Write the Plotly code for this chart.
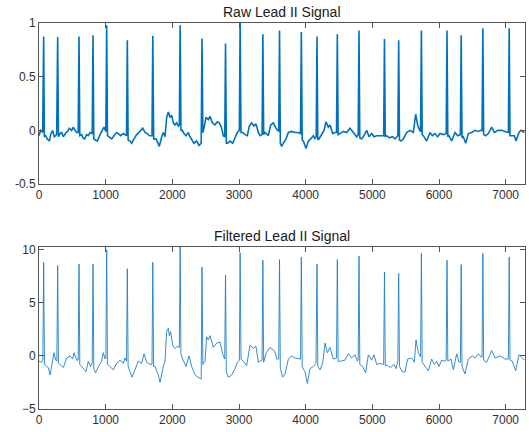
import plotly.graph_objects as go

# R-peak sample positions (shared by both traces)
peak_x = [70, 280, 600, 810, 1015, 1325, 1707, 2117, 2445, 2798, 3017, 3358,
          3608, 3935, 4170, 4475, 4800, 5182, 5395, 5736, 6120, 6333, 6658, 7053]
raw_peak_y = [0.875, 0.87, 0.875, 0.885, 0.98, 0.84, 0.88, 0.98, 0.855, 0.81, 1.0, 0.895,
              0.93, 0.915, 0.875, 0.895, 0.93, 0.85, 0.84, 0.93, 0.93, 0.885, 0.95, 0.95]
filt_peak_y = [8.8, 8.5, 8.65, 8.65, 10.0, 8.2, 8.8, 10.25, 8.35, 7.6, 9.7, 9.0,
               9.06, 9.3, 8.65, 9.06, 9.4, 7.9, 7.75, 9.65, 9.0, 8.6, 9.65, 9.3]

# Raw signal between beats (sample, value)
raw_base_x = [0, 25, 55, 80, 100, 125, 155, 180, 205, 230, 265, 292, 315, 340, 365, 405, 430,
              455, 490, 515, 540, 565, 588, 612, 640, 660, 685, 715, 740, 765, 798, 822, 845,
              875, 915, 955, 975, 1003, 1027, 1055, 1090, 1125, 1165, 1190, 1225, 1265, 1295,
              1313, 1337, 1365, 1390, 1425, 1465, 1500, 1525, 1555, 1590, 1625, 1655, 1695,
              1720, 1755, 1790, 1805, 1840, 1865, 1890, 1915, 1940, 1965, 1990, 2015, 2040,
              2065, 2090, 2105, 2130, 2150, 2175, 2205, 2240, 2255, 2290, 2325, 2365, 2400,
              2433, 2458, 2475, 2505, 2540, 2565, 2600, 2640, 2675, 2705, 2740, 2765, 2786,
              2810, 2830, 2865, 2905, 2940, 2975, 3005, 3030, 3055, 3090, 3125, 3155, 3190,
              3225, 3255, 3290, 3315, 3346, 3370, 3390, 3440, 3475, 3515, 3555, 3596, 3620,
              3640, 3665, 3705, 3740, 3790, 3840, 3890, 3923, 3948, 3965, 4005, 4040, 4075,
              4115, 4140, 4158, 4182, 4200, 4240, 4275, 4305, 4340, 4365, 4405, 4440, 4463,
              4487, 4515, 4565, 4615, 4665, 4705, 4740, 4765, 4788, 4812, 4840, 4875, 4915,
              4950, 4990, 5025, 5065, 5115, 5145, 5170, 5194, 5215, 5255, 5305, 5340, 5383,
              5407, 5430, 5465, 5515, 5565, 5615, 5650, 5680, 5710, 5724, 5748, 5765, 5815,
              5865, 5900, 5940, 5980, 6015, 6065, 6108, 6132, 6150, 6190, 6240, 6280, 6321,
              6345, 6365, 6400, 6440, 6490, 6540, 6590, 6630, 6646, 6670, 6700, 6740, 6790,
              6830, 6890, 6940, 6990, 7041, 7065, 7090, 7130, 7155, 7200, 7230, 7280]
raw_base_y = [-0.05, 0.0, -0.02, -0.06, -0.05, -0.08, -0.10, -0.03, 0.0, -0.06, -0.04, -0.06,
              -0.03, -0.02, -0.06, -0.02, -0.01, 0.02, 0.0, 0.03, 0.0, -0.02, -0.02, -0.05,
              -0.04, -0.07, -0.08, -0.04, -0.05, -0.02, -0.03, -0.08, -0.09, -0.10, -0.04,
              0.0, 0.03, -0.01, -0.05, -0.06, -0.08, -0.05, -0.02, -0.03, -0.05, -0.03, -0.04,
              -0.05, -0.09, -0.10, -0.12, -0.08, -0.04, -0.02, 0.0, 0.02, -0.02, -0.03, -0.05,
              -0.05, -0.08, -0.08, -0.12, -0.15, -0.06, -0.02, -0.06, 0.12, 0.17, 0.12, 0.14,
              0.07, 0.05, 0.07, 0.04, 0.05, 0.0, 0.0, -0.03, -0.05, -0.02, -0.05, -0.08, -0.12,
              -0.10, -0.14, -0.12, -0.02, 0.02, 0.12, 0.10, 0.13, 0.07, 0.05, 0.08, 0.07, 0.02,
              -0.05, -0.06, -0.12, -0.12, -0.10, -0.12, -0.06, -0.02, 0.0, -0.02, -0.02, -0.04,
              -0.05, 0.04, 0.07, 0.04, 0.06, -0.02, -0.05, -0.04, -0.04, -0.02, -0.05, 0.05,
              0.07, 0.02, -0.01, -0.12, -0.15, -0.12, -0.08, -0.02, -0.01, -0.02, -0.02, -0.03,
              -0.09, -0.10, -0.17, -0.10, -0.08, -0.05, -0.08, -0.06, -0.09, -0.08, -0.03, 0.0,
              0.08, 0.03, 0.05, -0.03, -0.02, -0.02, -0.04, -0.03, -0.01, -0.02, 0.02, -0.01,
              -0.04, -0.06, -0.04, -0.07, -0.08, -0.05, 0.0, -0.06, -0.03, -0.06, -0.05, -0.05,
              -0.05, -0.05, -0.06, -0.05, -0.07, -0.06, -0.08, -0.05, -0.09, -0.10, -0.08,
              -0.02, 0.0, -0.02, 0.15, 0.05, 0.0, -0.01, -0.04, -0.05, -0.10, -0.02, -0.05,
              -0.03, -0.06, -0.03, -0.04, -0.03, -0.06, -0.05, -0.10, -0.02, -0.05, -0.04,
              -0.07, -0.06, -0.12, -0.03, -0.02, 0.0, -0.01, 0.0, 0.0, -0.04, -0.05, -0.03,
              0.03, -0.02, 0.0, 0.0, -0.01, -0.02, -0.05, -0.05, -0.05, -0.10, -0.02, 0.0, -0.02]

# Filtered signal between beats (sample, value)
filt_base_x = [0, 40, 58, 82, 115, 140, 165, 205, 225, 250, 268, 292, 315, 365, 415, 465, 505,
               525, 565, 588, 612, 640, 670, 705, 740, 775, 798, 822, 850, 890, 940, 965, 990,
               1003, 1027, 1065, 1115, 1165, 1215, 1265, 1290, 1313, 1337, 1365, 1395, 1440,
               1490, 1540, 1575, 1615, 1665, 1695, 1719, 1740, 1790, 1815, 1865, 1890, 1915,
               1940, 1955, 1975, 2005, 2040, 2075, 2105, 2129, 2155, 2205, 2250, 2290, 2340,
               2390, 2433, 2458, 2490, 2515, 2540, 2565, 2615, 2665, 2715, 2755, 2786, 2810,
               2840, 2890, 2940, 2975, 3005, 3030, 3065, 3115, 3165, 3215, 3255, 3290, 3346,
               3370, 3410, 3465, 3510, 3540, 3565, 3596, 3620, 3655, 3690, 3740, 3790, 3840,
               3905, 3923, 3948, 3990, 4025, 4065, 4115, 4155, 4182, 4215, 4255, 4290, 4325,
               4365, 4415, 4463, 4487, 4525, 4590, 4640, 4690, 4740, 4775, 4788, 4812, 4855,
               4900, 4940, 4990, 5025, 5065, 5115, 5155, 5170, 5194, 5225, 5275, 5325, 5355,
               5383, 5407, 5450, 5490, 5530, 5590, 5630, 5655, 5690, 5724, 5748, 5790, 5840,
               5890, 5930, 5965, 6000, 6040, 6090, 6108, 6132, 6180, 6215, 6265, 6300, 6321,
               6345, 6390, 6440, 6500, 6540, 6590, 6630, 6646, 6670, 6715, 6790, 6840, 6915,
               6990, 7041, 7065, 7100, 7150, 7200, 7265, 7280]
filt_base_y = [-0.5, -0.6, -0.3, -0.8, -1.0, -1.1, -1.8, -0.5, 0.3, -0.4, -0.5, -0.7, -0.8,
               -1.1, -0.2, 0.0, -0.3, 0.3, -0.4, -0.4, -0.8, -1.0, -1.2, -1.5, -0.5, -1.0,
               -0.7, -1.2, -1.6, -1.0, -0.5, 0.3, -0.3, -0.2, -0.8, -1.0, -1.3, -0.7, -0.4,
               -0.7, -0.2, -0.5, -1.0, -1.5, -2.0, -1.3, -0.5, -0.7, 0.2, -0.6, -0.8, -0.8,
               -1.0, -1.0, -1.8, -2.5, -1.0, -0.5, 2.3, 2.6, 1.9, 2.3, 1.0, 0.7, 0.9, 0.8,
               0.2, -0.3, -1.0, 0.0, -1.0, -1.8, -2.0, -2.2, -0.8, -0.5, 1.8, 1.5, 1.9, 0.8,
               1.2, 1.3, 0.2, -0.3, -1.5, -2.0, -1.8, -1.2, -0.6, -0.4, -0.3, -0.5, -0.9, 1.0,
               0.7, 0.9, -0.6, -0.4, -0.6, 0.3, 0.8, 0.5, 0.4, -0.3, -0.3, -1.2, -2.0, -1.7,
               -0.3, 0.0, -0.2, -0.3, -0.3, -1.0, -1.5, -2.6, -1.2, -1.0, -0.7, -1.0, -1.3,
               -0.7, 1.2, 0.3, 0.8, -0.3, -0.2, -0.5, -0.5, -0.4, 0.2, -0.2, 0.1, -0.5, -0.4,
               -0.8, -1.0, -1.6, 0.1, -0.4, 0.1, -0.8, -0.7, -0.8, -0.8, -0.9, -0.9, -1.1,
               -0.8, -1.2, -0.5, -1.0, -1.5, -1.5, -0.3, -0.2, -0.6, 1.5, 0.3, -0.1, -0.6,
               -1.0, -1.4, -0.3, -0.8, -0.5, -1.0, -0.4, -0.5, -0.4, -0.5, -0.3, -1.3, 0.2,
               -0.6, -0.6, -1.0, -1.7, -0.3, 0.0, -0.2, 0.2, -0.1, -0.1, -0.4, -0.6, 0.5,
               -0.2, 0.0, -0.3, -0.3, -0.4, -0.5, -1.4, 0.1, -0.3, -0.4]

x_ticks = [0, 1000, 2000, 3000, 4000, 5000, 6000, 7000]


def merge(bx, by, px, py):
    pts = sorted(list(zip(bx, by)) + list(zip(px, py)))
    return [p[0] for p in pts], [p[1] for p in pts]


raw_x, raw_y = merge(raw_base_x, raw_base_y, peak_x, raw_peak_y)
filt_x, filt_y = merge(filt_base_x, filt_base_y, peak_x, filt_peak_y)

LINE = "#0072BD"
AX = "#555555"
FONT = "Liberation Sans, Arial, Helvetica, sans-serif"

fig = go.Figure()
fig.add_trace(go.Scatter(x=raw_x, y=raw_y, mode="lines",
                         line=dict(color=LINE, width=1.6), xaxis="x", yaxis="y",
                         showlegend=False, hoverinfo="skip"))
fig.add_trace(go.Scatter(x=filt_x, y=filt_y, mode="lines",
                         line=dict(color="#1f80c8", width=0.9), xaxis="x2", yaxis="y2",
                         showlegend=False, hoverinfo="skip"))

axis_common = dict(showline=True, linecolor=AX, linewidth=1, mirror="ticks",
                   ticks="inside", ticklen=5, tickcolor=AX, tickwidth=1,
                   showgrid=False, zeroline=False,
                   tickfont=dict(family=FONT, size=12, color="#303030"))

top_bottom = (409 - 184) / 386
bot_top = (409 - 247) / 386

fig.update_layout(
    width=529, height=432,
    margin=dict(l=39, r=4, t=23, b=23),
    paper_bgcolor="white", plot_bgcolor="white",
    xaxis=dict(domain=[0, 1], range=[0, 7290], tickvals=x_ticks, anchor="y", **axis_common),
    yaxis=dict(domain=[top_bottom, 1], range=[-0.5, 1], tickvals=[-0.5, 0, 0.5, 1],
               ticktext=["-0.5", "0", "0.5", "1"], anchor="x", **axis_common),
    xaxis2=dict(domain=[0, 1], range=[0, 7290], tickvals=x_ticks, anchor="y2", **axis_common),
    yaxis2=dict(domain=[0, bot_top], range=[-5, 10.25], tickvals=[-5, 0, 5, 10],
                anchor="x2", **axis_common),
    annotations=[
        dict(text="Raw Lead II Signal", xref="paper", yref="paper", x=0.5, y=1,
             xanchor="center", yanchor="bottom", yshift=1, showarrow=False,
             font=dict(family=FONT, size=14, color="#1a1a1a")),
        dict(text="Filtered Lead II Signal", xref="paper", yref="paper", x=0.5, y=bot_top,
             xanchor="center", yanchor="bottom", yshift=1, showarrow=False,
             font=dict(family=FONT, size=14, color="#1a1a1a")),
    ],
)

fig.write_html("out.html")
